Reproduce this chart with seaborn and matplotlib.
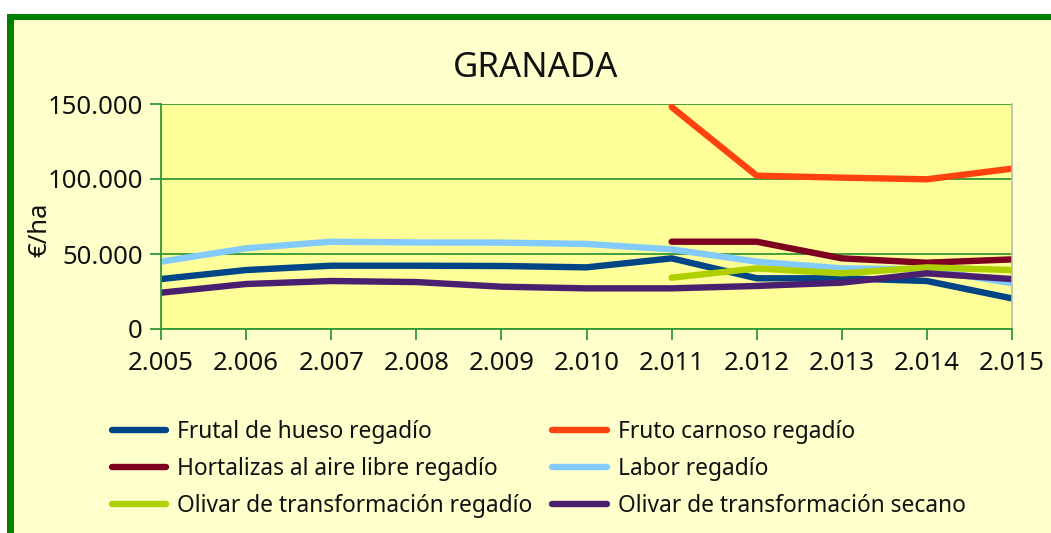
import numpy as np
import pandas as pd
import matplotlib
matplotlib.use("Agg")
import matplotlib.pyplot as plt
import seaborn as sns
from matplotlib.patches import Rectangle
from matplotlib.ticker import FuncFormatter

years = [2005, 2006, 2007, 2008, 2009, 2010, 2011, 2012, 2013, 2014, 2015]
nan = np.nan
frutal_hueso = [33300, 39300, 42200, 42200, 42000, 41100, 47100, 33800, 33800, 32000, 20400]
fruto_carnoso = [nan, nan, nan, nan, nan, nan, 148000, 102200, 100900, 99800, 106900]
hortalizas = [nan, nan, nan, nan, nan, nan, 58200, 58200, 47100, 44200, 46400]
labor = [44900, 53800, 58200, 57700, 57600, 56700, 53100, 44900, 40400, 39800, 30500]
olivar_regadio = [nan, nan, nan, nan, nan, nan, 34200, 40400, 37100, 41100, 39300]
olivar_secano = [24200, 30000, 32000, 31300, 28200, 27100, 27100, 28700, 30900, 37100, 33300]

series_names = ["Frutal de hueso regadío", "Fruto carnoso regadío",
                "Hortalizas al aire libre regadío", "Labor regadío",
                "Olivar de transformación regadío", "Olivar de transformación secano"]
series_values = [frutal_hueso, fruto_carnoso, hortalizas, labor, olivar_regadio, olivar_secano]
colors = ["#004586", "#FF420E", "#7E0021", "#83CAFF", "#AECF00", "#4B1F6F"]

rows = []
for name, vals in zip(series_names, series_values):
    for y, v in zip(years, vals):
        rows.append({"Año": y, "Valor": v, "Serie": name})
df = pd.DataFrame(rows).dropna()

sns.set_theme(style="white")
plt.rcParams['font.family'] = ['Noto Sans', 'DejaVu Sans']

W, H = 1051, 533
fig = plt.figure(figsize=(W / 100, H / 100), dpi=100)
fig.patch.set_facecolor("white")
# green frame and cream background
fig.add_artist(Rectangle((7 / W, -0.1), 1.2, (H - 14) / H + 0.1, transform=fig.transFigure,
                         facecolor="#008000", edgecolor="none", zorder=-10))
fig.add_artist(Rectangle((14 / W, -0.1), 1.2, (H - 20) / H + 0.1, transform=fig.transFigure,
                         facecolor="#FFFFCC", edgecolor="none", zorder=-9))

ax = fig.add_axes([161 / W, (H - 329) / H, (1012 - 161) / W, (329 - 104) / H])
ax.set_facecolor("#FFFF99")

sns.lineplot(data=df, x="Año", y="Valor", hue="Serie", hue_order=series_names,
             palette=colors, linewidth=4.6, ax=ax, legend=False)

ax.set_xlim(2005, 2015)
ax.set_ylim(0, 150000)
ax.set_xticks(years)
ax.set_yticks([0, 50000, 100000, 150000])
fmt = FuncFormatter(lambda v, p: f"{int(round(v)):,}".replace(",", "."))
ax.xaxis.set_major_formatter(fmt)
ax.yaxis.set_major_formatter(fmt)
ax.grid(axis="y", color="#339933", linewidth=1.3)
ax.grid(axis="x", visible=False)
ax.spines["top"].set_visible(False)
ax.spines["right"].set_color("#BBBBAA")
ax.spines["right"].set_linewidth(1.2)
for s in ["left", "bottom"]:
    ax.spines[s].set_color("#339933")
    ax.spines[s].set_linewidth(1.3)
ax.tick_params(axis="both", which="major", direction="out", length=8, width=1.3,
               color="#339933", labelsize=18.5, labelcolor="#111111",
               left=True, bottom=True)
ax.tick_params(axis="x", pad=8)
ax.tick_params(axis="y", pad=5)
ax.set_xlabel("")
ax.set_ylabel("€/ha", fontsize=18.5, color="#111111")
ax.yaxis.set_label_coords(-0.128, 0.44)

fig.text(536 / W, (H - 68) / H, "GRANADA", ha="center", va="center",
         fontsize=25, color="#111111")

handles = [plt.Line2D([], [], color=c, linewidth=4.6) for c in colors]
order = [0, 2, 4, 1, 3, 5]
leg = fig.legend([handles[i] for i in order], [series_names[i] for i in order],
                 ncol=2, loc="upper left", bbox_to_anchor=(91 / W, (H - 399) / H),
                 frameon=False, fontsize=16.4, handlelength=2.4, handletextpad=0.48,
                 columnspacing=0.88, labelspacing=0.58, labelcolor="#111111")

fig.savefig("out.png", dpi=100, facecolor=fig.get_facecolor())
